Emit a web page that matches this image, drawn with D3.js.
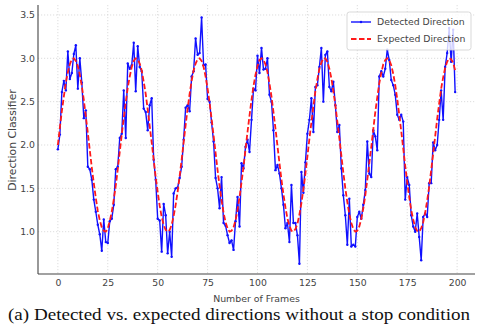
<!DOCTYPE html>
<html>
<head>
<meta charset="utf-8">
<script src="https://cdn.jsdelivr.net/npm/d3@7"></script>
<style>
  body { margin: 0; background: #fff; }
  svg { display: block; }
  .tick-label { font-family: "DejaVu Sans", sans-serif; font-size: 9.3px; fill: #444; }
  .axis-label { font-family: "DejaVu Sans", sans-serif; font-size: 9.4px; fill: #444; }
  .y-label { font-size: 10.8px; }
  .legend-label { font-family: "DejaVu Sans", sans-serif; font-size: 9.3px; fill: #444; }
  .caption { font-family: "Liberation Serif", "Times New Roman", serif; font-size: 16.5px; fill: #111; }
</style>
</head>
<body>
<div id="chart"></div>
<script>
// Data
const detected = [
  1.95, 2.12, 2.61, 2.74, 2.63, 3.08, 2.76, 2.83, 3.05, 3.15,
  2.65, 3.00, 2.72, 2.31, 2.40, 1.75, 1.72, 1.60, 1.37, 1.23,
  1.08, 0.97, 0.78, 1.14, 0.88, 0.87, 1.12, 1.15, 1.31, 1.72,
  1.75, 2.08, 2.13, 2.63, 2.08, 2.94, 2.88, 2.92, 3.18, 2.62,
  3.14, 2.90, 2.85, 2.42, 2.38, 2.17, 2.46, 2.54, 1.83, 1.60,
  1.15, 1.13, 0.77, 1.32, 1.19, 0.75, 1.00, 0.71, 1.44, 1.50,
  1.51, 1.62, 1.75, 2.06, 2.43, 2.46, 2.39, 2.79, 2.85, 3.23,
  3.04, 3.06, 3.47, 2.92, 2.93, 2.53, 2.50, 2.26, 2.04, 1.62,
  1.50, 1.27, 1.63, 1.10, 1.07, 0.96, 0.87, 0.90, 0.79, 1.12,
  1.40, 1.06, 1.79, 1.73, 1.98, 2.06, 1.92, 2.29, 2.65, 2.63,
  3.03, 2.83, 3.12, 2.87, 2.88, 3.00, 2.58, 2.50, 2.17, 1.71,
  1.77, 1.67, 1.50, 1.31, 1.04, 1.10, 0.88, 1.54, 1.10, 1.10,
  0.96, 0.63, 1.69, 1.45, 1.80, 2.13, 2.29, 2.54, 2.15, 2.67,
  2.69, 2.90, 3.12, 2.50, 3.04, 3.08, 2.67, 2.62, 2.73, 2.46,
  2.15, 2.23, 1.73, 1.42, 1.19, 0.85, 1.38, 0.83, 0.85, 0.83,
  1.17, 1.23, 1.15, 1.31, 1.48, 2.04, 1.67, 1.63, 2.17, 2.10,
  1.94, 2.79, 2.85, 2.79, 2.88, 3.10, 2.98, 2.75, 2.69, 2.58,
  2.35, 2.29, 2.35, 2.27, 1.37, 1.63, 1.54, 1.19, 1.06, 1.00,
  1.21, 0.94, 0.67, 1.17, 1.21, 1.17, 1.56, 1.56, 2.03, 1.94,
  2.00, 2.29, 2.63, 2.29, 2.90, 3.06, 3.35, 2.96, 3.33, 2.61
];

const expected = [
  2.00, 2.20, 2.39, 2.56, 2.72, 2.84, 2.93, 2.99, 3.00, 2.97,
  2.91, 2.81, 2.68, 2.52, 2.33, 2.14, 1.94, 1.74, 1.56, 1.39,
  1.24, 1.13, 1.05, 1.01, 1.00, 1.04, 1.12, 1.23, 1.37, 1.53,
  1.72, 1.92, 2.12, 2.31, 2.49, 2.66, 2.79, 2.90, 2.97, 3.00,
  2.99, 2.94, 2.86, 2.73, 2.59, 2.41, 2.22, 2.03, 1.83, 1.63,
  1.46, 1.30, 1.17, 1.08, 1.02, 1.00, 1.02, 1.08, 1.18, 1.31,
  1.46, 1.64, 1.83, 2.03, 2.23, 2.42, 2.59, 2.74, 2.86, 2.94,
  2.99, 3.00, 2.97, 2.90, 2.79, 2.65, 2.49, 2.30, 2.11, 1.91,
  1.71, 1.53, 1.36, 1.22, 1.11, 1.04, 1.00, 1.01, 1.05, 1.13,
  1.25, 1.40, 1.57, 1.75, 1.95, 2.15, 2.34, 2.52, 2.68, 2.81,
  2.91, 2.98, 3.00, 2.98, 2.93, 2.84, 2.71, 2.56, 2.38, 2.19,
  1.99, 1.79, 1.60, 1.43, 1.28, 1.15, 1.07, 1.01, 1.00, 1.03,
  1.09, 1.20, 1.33, 1.49, 1.67, 1.87, 2.07, 2.26, 2.45, 2.62,
  2.76, 2.88, 2.95, 3.00, 3.00, 2.96, 2.88, 2.77, 2.62, 2.46,
  2.27, 2.08, 1.88, 1.68, 1.50, 1.34, 1.20, 1.10, 1.03, 1.00,
  1.01, 1.06, 1.15, 1.27, 1.42, 1.60, 1.79, 1.98, 2.18, 2.38,
  2.55, 2.71, 2.83, 2.93, 2.98, 3.00, 2.98, 2.92, 2.82, 2.69,
  2.53, 2.35, 2.16, 1.96, 1.76, 1.57, 1.40, 1.25, 1.14, 1.05,
  1.01, 1.00, 1.04, 1.11, 1.22, 1.36, 1.52, 1.71, 1.90, 2.10,
  2.30, 2.48, 2.65, 2.78, 2.89, 2.96, 3.00, 2.99, 2.95, 2.86
];

const frames = d3.range(detected.length);
const xTicks = [0, 25, 50, 75, 100, 125, 150, 175, 200];
const yTicks = [1.0, 1.5, 2.0, 2.5, 3.0, 3.5];
const seriesNames = ['Detected Direction', 'Expected Direction'];

const width = 480;
const height = 332;
const plot = {left: 38, right: 475, top: 5, bottom: 274};

const svg = d3.select('#chart').append('svg')
  .attr('width', width)
  .attr('height', height);

const x = d3.scaleLinear().domain([-9.95, 208.95]).range([plot.left, plot.right]);
const y = d3.scaleLinear().domain([0.512, 3.615]).range([plot.bottom, plot.top]);

// Grid
const grid = svg.append('g')
  .attr('stroke', '#d4d4d4')
  .attr('stroke-width', 0.8)
  .attr('stroke-dasharray', '1.2,1.8');
grid.selectAll('.vgrid')
  .data(xTicks)
  .join('line')
    .attr('x1', d => x(d)).attr('x2', d => x(d))
    .attr('y1', plot.top).attr('y2', plot.bottom);
grid.selectAll('.hgrid')
  .data(yTicks)
  .join('line')
    .attr('x1', plot.left).attr('x2', plot.right)
    .attr('y1', d => y(d)).attr('y2', d => y(d));

// Axes, labels only (no tick marks)
const xAxis = svg.append('g')
  .attr('transform', `translate(0,${plot.bottom})`)
  .call(d3.axisBottom(x).tickValues(xTicks).tickSize(0).tickPadding(5).tickFormat(d3.format('d')));
const yAxis = svg.append('g')
  .attr('transform', `translate(${plot.left},0)`)
  .call(d3.axisLeft(y).tickValues(yTicks).tickSize(0).tickPadding(3).tickFormat(d3.format('.1f')));
[xAxis, yAxis].forEach(a => {
  a.select('.domain').remove();
  a.selectAll('text').attr('class', 'tick-label').attr('fill', null);
});

// Lines
const lineDetected = d3.line()
  .x((d, i) => x(frames[i]))
  .y(d => y(d));

svg.append('path')
  .datum(detected)
  .attr('fill', 'none')
  .attr('stroke', '#1010ff')
  .attr('stroke-width', 1.4)
  .attr('stroke-linejoin', 'round')
  .attr('d', lineDetected);

svg.append('g')
  .attr('fill', '#1010ff')
  .selectAll('circle')
  .data(detected)
  .join('circle')
    .attr('cx', (d, i) => x(frames[i]))
    .attr('cy', d => y(d))
    .attr('r', 1.2);

svg.append('path')
  .datum(expected)
  .attr('fill', 'none')
  .attr('stroke', '#ff1a1a')
  .attr('stroke-width', 1.8)
  .attr('stroke-dasharray', '5.5,2.5')
  .attr('d', lineDetected);

// Spines
svg.append('line')
  .attr('x1', plot.left).attr('x2', plot.left)
  .attr('y1', plot.top).attr('y2', plot.bottom)
  .attr('stroke', '#444').attr('stroke-width', 1.1);
svg.append('line')
  .attr('x1', plot.left).attr('x2', plot.right)
  .attr('y1', plot.bottom).attr('y2', plot.bottom)
  .attr('stroke', '#444').attr('stroke-width', 1.1);

// Axis titles
svg.append('text')
  .attr('class', 'axis-label')
  .attr('x', (plot.left + plot.right) / 2)
  .attr('y', 302)
  .attr('text-anchor', 'middle')
  .text('Number of Frames');
svg.append('text')
  .attr('class', 'axis-label y-label')
  .attr('transform', `translate(15.5,140) rotate(-90)`)
  .attr('text-anchor', 'middle')
  .text('Direction Classifier');

// Legend
const legend = svg.append('g').attr('transform', 'translate(347,12)');
legend.append('rect')
  .attr('width', 124).attr('height', 38)
  .attr('rx', 2.5)
  .attr('fill', 'rgba(255,255,255,0.8)')
  .attr('stroke', '#cfcfcf')
  .attr('stroke-width', 0.8);
legend.append('line')
  .attr('x1', 4).attr('x2', 24).attr('y1', 10).attr('y2', 10)
  .attr('stroke', '#1010ff').attr('stroke-width', 1.4);
legend.append('circle')
  .attr('cx', 14).attr('cy', 10).attr('r', 1.2).attr('fill', '#1010ff');
legend.append('line')
  .attr('x1', 4).attr('x2', 24).attr('y1', 27).attr('y2', 27)
  .attr('stroke', '#ff1a1a').attr('stroke-width', 1.8)
  .attr('stroke-dasharray', '5.5,2.5');
legend.selectAll('.legend-label')
  .data(seriesNames)
  .join('text')
    .attr('class', 'legend-label')
    .attr('x', 30)
    .attr('y', (d, i) => 10 + i * 17)
    .attr('dy', '0.35em')
    .text(d => d);

// Caption
svg.append('text')
  .attr('class', 'caption')
  .attr('x', 8)
  .attr('y', 320)
  .attr('textLength', 462)
  .attr('lengthAdjust', 'spacingAndGlyphs')
  .text('(a) Detected vs. expected directions without a stop condition');
</script>
</body>
</html>
